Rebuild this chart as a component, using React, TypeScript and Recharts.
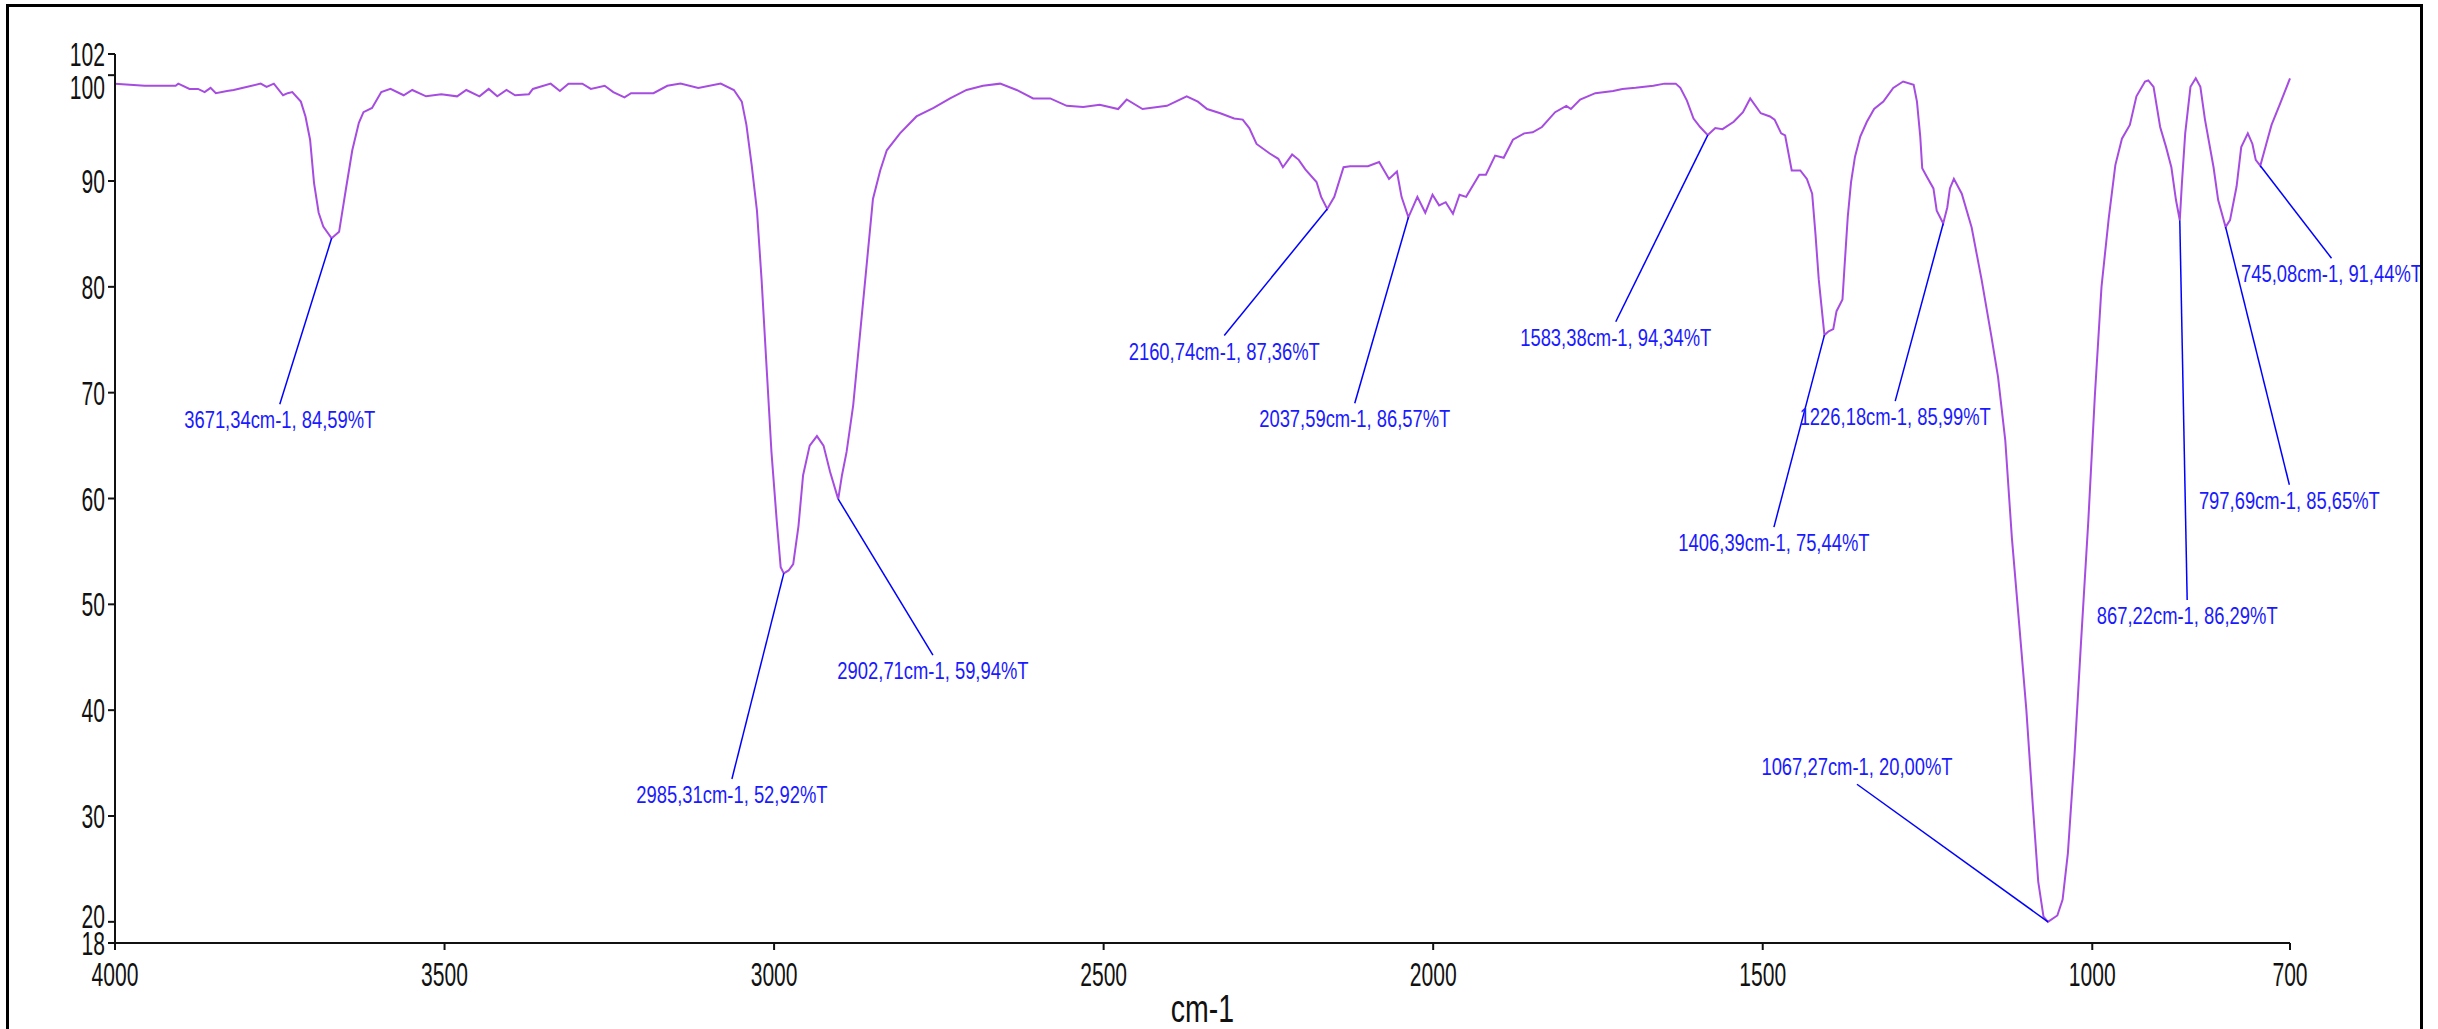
import React from 'react';
import { LineChart, Line, XAxis, YAxis, ReferenceLine, ReferenceDot } from 'recharts';

// FTIR spectrum (wavenumber cm-1 / %T)
const wavenumbers = [
  4000, 3955, 3930, 3908, 3904, 3887, 3874, 3864, 3855, 3847, 3830, 3820, 3799, 3779, 3770, 3759,
  3745, 3738, 3731, 3718, 3711, 3704, 3698, 3691, 3684, 3671.34, 3660, 3650, 3640, 3630, 3623, 3610,
  3596, 3582, 3562, 3549, 3528, 3505, 3481, 3467, 3447, 3433, 3420, 3406, 3393, 3372, 3366, 3339,
  3325, 3312, 3291, 3278, 3257, 3244, 3227, 3217, 3200, 3183, 3162, 3142, 3115, 3081, 3061, 3049,
  3042, 3034, 3026, 3019, 3011, 3004, 2996, 2990, 2985.31, 2978, 2971, 2963, 2956, 2946, 2935, 2925,
  2915, 2902.71, 2897, 2890, 2880, 2870, 2860, 2850, 2839, 2829, 2809, 2784, 2758, 2733, 2708, 2683,
  2657, 2632, 2607, 2581, 2556, 2531, 2506, 2478, 2465, 2441, 2404, 2374, 2357, 2343, 2323, 2302,
  2289, 2279, 2268, 2248, 2235, 2228, 2214, 2204, 2194, 2177, 2170, 2160.74, 2150, 2136, 2126, 2110,
  2099, 2082, 2067, 2055, 2048, 2037.59, 2024, 2012, 2001, 1991, 1981, 1970, 1960, 1950, 1930, 1920,
  1906, 1893, 1879, 1862, 1849, 1835, 1815, 1798, 1791, 1777, 1754, 1727, 1713, 1693, 1666, 1649,
  1632, 1625, 1615, 1605, 1595, 1583.38, 1572, 1561, 1544, 1530, 1519, 1503, 1489, 1482, 1472, 1466,
  1456, 1443, 1433, 1425, 1420, 1415, 1406.39, 1400, 1393, 1388, 1379, 1376, 1371, 1366, 1360, 1352,
  1342, 1331, 1317, 1302, 1287, 1271, 1266, 1261, 1258, 1251, 1241, 1236, 1226.18, 1220, 1216, 1210,
  1198, 1183, 1168, 1153, 1143, 1132, 1122, 1111, 1100, 1090, 1082, 1074, 1067.27, 1053, 1045, 1037,
  1027, 1017, 1006, 996, 986, 975, 965, 955, 943, 933, 920, 915, 907, 897, 888, 880,
  873, 867.22, 864, 859, 851, 843, 836, 829, 816, 809, 797.69, 791, 781, 774, 764, 757,
  752, 745.08, 736, 728, 715, 700
];
const transmittance = [
  99.2, 99.0, 99.0, 99.0, 99.2, 98.7, 98.7, 98.4, 98.8, 98.3, 98.5, 98.6, 98.9, 99.2, 98.9, 99.2,
  98.1, 98.3, 98.4, 97.5, 96.1, 93.9, 89.8, 87.0, 85.7, 84.59, 85.2, 89.1, 92.9, 95.5, 96.5, 96.9,
  98.4, 98.7, 98.1, 98.6, 98.0, 98.2, 98.0, 98.6, 98.0, 98.7, 98.0, 98.6, 98.1, 98.2, 98.7, 99.2,
  98.5, 99.2, 99.2, 98.7, 99.0, 98.4, 97.9, 98.3, 98.3, 98.3, 99.0, 99.2, 98.8, 99.2, 98.6, 97.5,
  95.3, 91.5, 87.2, 80.7, 72.0, 64.4, 57.9, 53.5, 52.92, 53.2, 53.8, 57.4, 62.2, 65.0, 65.9, 65.0,
  62.5, 59.94, 62.2, 64.4, 68.8, 75.3, 81.8, 88.3, 91.0, 92.9, 94.5, 96.1, 96.9, 97.8, 98.6, 99.0,
  99.2, 98.6, 97.8, 97.8, 97.1, 97.0, 97.2, 96.8, 97.7, 96.8, 97.1, 98.0, 97.5, 96.8, 96.4, 95.9,
  95.8, 95.0, 93.5, 92.6, 92.1, 91.3, 92.5, 92.0, 91.1, 89.9, 88.5, 87.36, 88.5, 91.3, 91.4, 91.4,
  91.4, 91.8, 90.2, 90.9, 88.5, 86.57, 88.5, 87.0, 88.7, 87.7, 88.0, 86.9, 88.7, 88.5, 90.6, 90.6,
  92.4, 92.2, 93.9, 94.5, 94.6, 95.1, 96.5, 97.1, 96.8, 97.7, 98.3, 98.5, 98.7, 98.8, 99.0, 99.2,
  99.2, 98.8, 97.6, 95.9, 95.1, 94.34, 95.0, 94.9, 95.6, 96.5, 97.8, 96.4, 96.1, 95.8, 94.5, 94.3,
  91.0, 91.0, 90.2, 88.8, 85.0, 80.7, 75.44, 75.8, 76.0, 77.7, 78.8, 81.8, 86.6, 89.9, 92.3, 94.2,
  95.6, 96.8, 97.5, 98.8, 99.4, 99.1, 97.5, 94.2, 91.2, 90.4, 89.3, 87.2, 85.99, 87.5, 89.3, 90.2,
  88.8, 85.6, 80.7, 75.3, 71.5, 65.5, 56.3, 48.2, 40.0, 30.8, 23.8, 20.5, 20.0, 20.6, 22.1, 26.5,
  35.7, 46.5, 57.9, 69.8, 80.0, 86.5, 91.5, 94.0, 95.3, 98.0, 99.4, 99.5, 98.9, 95.1, 93.2, 91.3,
  88.2, 86.29, 89.8, 94.5, 98.9, 99.7, 98.9, 95.8, 91.3, 88.2, 85.65, 86.3, 89.5, 93.2, 94.5, 93.5,
  92.0, 91.44, 93.5, 95.3, 97.3, 99.7
];

const xTicks = [4000, 3500, 3000, 2500, 2000, 1500, 1000, 700];
const yTicks = [18, 20, 30, 40, 50, 60, 70, 80, 90, 100, 102];

// peak annotations: marked point, end of the leader line, label
const peakWn = [3671.34, 2985.31, 2902.71, 2160.74, 2037.59, 1583.38, 1406.39, 1226.18, 1067.27, 867.22, 797.69, 745.08];
const peakT = [84.59, 52.92, 59.94, 87.36, 86.57, 94.34, 75.44, 85.99, 20.0, 86.29, 85.65, 91.44];
const leaderWn = [3750, 3064, 2759, 2317, 2119, 1723, 1483, 1299, 1357, 856, 701, 637];
const leaderT = [68.9, 33.5, 45.2, 75.4, 69.0, 76.7, 57.3, 69.2, 33.0, 50.4, 61.3, 82.7];
const peakLabels = [
  '3671,34cm-1, 84,59%T', '2985,31cm-1, 52,92%T', '2902,71cm-1, 59,94%T', '2160,74cm-1, 87,36%T',
  '2037,59cm-1, 86,57%T', '1583,38cm-1, 94,34%T', '1406,39cm-1, 75,44%T', '1226,18cm-1, 85,99%T',
  '1067,27cm-1, 20,00%T', '867,22cm-1, 86,29%T', '797,69cm-1, 85,65%T', '745,08cm-1, 91,44%T'
];
const labelAbove = [false, false, false, false, false, false, false, false, true, false, false, false];

const spectrum = wavenumbers.map((wn, i) => ({ wn, t: transmittance[i] }));

const FONT = '"Liberation Sans", Arial, sans-serif';

const XTick = ({ x, y, payload }: any) => (
  <text
    transform={`translate(${x},${y + 34}) scale(0.62,1)`}
    textAnchor="middle"
    fontFamily={FONT}
    fontSize={34}
    fill="#111"
  >
    {payload.value}
  </text>
);

const YTick = ({ x, y, payload }: any) => {
  // software nudges the crowded end labels apart
  const shift = payload.value === 100 ? 12 : payload.value === 20 ? -6 : 0;
  return (
    <text
      transform={`translate(${x - 1},${y + 12 + shift}) scale(0.62,1)`}
      textAnchor="end"
      fontFamily={FONT}
      fontSize={34}
      fill="#111"
    >
      {payload.value}
    </text>
  );
};

const AxisTitle = ({ viewBox }: any) => {
  const cx = viewBox.x + viewBox.width / 2;
  return (
    <text
      transform={`translate(${cx},${viewBox.y + 79}) scale(0.75,1)`}
      textAnchor="middle"
      fontFamily={FONT}
      fontSize={38}
      fill="#111"
    >
      cm-1
    </text>
  );
};

const peakText = (label: string, above: boolean) => (props: any) => (
  <text
    transform={`translate(${props.cx},${props.cy + (above ? -9 : 24)}) scale(0.8,1)`}
    textAnchor="middle"
    fontFamily={FONT}
    fontSize={23}
    fill="#1a1aff"
  >
    {label}
  </text>
);

export default function App() {
  return (
    <div style={{ position: 'absolute', left: 0, top: 0, width: 2438, height: 1029, background: '#fff', overflow: 'hidden' }}>
      <LineChart
        width={2438}
        height={1029}
        data={spectrum}
        margin={{ top: 54, right: 148, left: 0, bottom: 0 }}
      >
        <XAxis
          dataKey="wn"
          type="number"
          domain={[700, 4000]}
          reversed
          ticks={xTicks}
          tick={<XTick />}
          tickSize={7}
          height={86}
          stroke="#111"
          strokeWidth={2}
          interval={0}
          label={<AxisTitle />}
        />
        <YAxis
          type="number"
          domain={[18, 102]}
          ticks={yTicks}
          tick={<YTick />}
          tickSize={7}
          width={115}
          stroke="#111"
          strokeWidth={2}
          interval={0}
        />
        <Line
          dataKey="t"
          type="linear"
          stroke="#a64ce0"
          strokeWidth={2}
          dot={false}
          isAnimationActive={false}
        />
        {peakWn.map((wn, i) => (
          <ReferenceLine
            key={`ln-${i}`}
            segment={[{ x: wn, y: peakT[i] }, { x: leaderWn[i], y: leaderT[i] }]}
            stroke="#0000ff"
            strokeWidth={1.5}
            ifOverflow="visible"
          />
        ))}
        {peakWn.map((wn, i) => (
          <ReferenceDot
            key={`lb-${i}`}
            x={leaderWn[i]}
            y={leaderT[i]}
            r={0}
            ifOverflow="visible"
            shape={peakText(peakLabels[i], labelAbove[i])}
          />
        ))}
      </LineChart>
      <div
        style={{
          position: 'absolute', left: 6, top: 4, width: 2417, height: 1100,
          border: '3px solid #000', boxSizing: 'border-box', pointerEvents: 'none'
        }}
      />
    </div>
  );
}
